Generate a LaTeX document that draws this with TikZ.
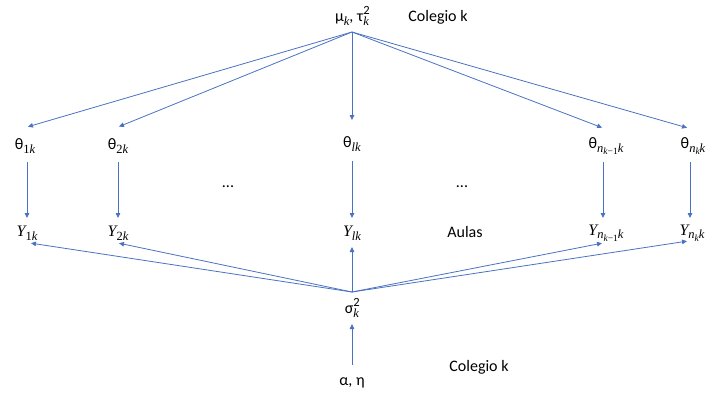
\documentclass[tikz,border=0pt]{standalone}
\usepackage{fontspec}
\setmainfont{Carlito}
\newfontfamily\serifi{Liberation Serif}
\usetikzlibrary{arrows.meta}
\definecolor{arr}{HTML}{4A72C2}
\newcommand\mi[1]{{\serifi\itshape #1}}
\newcommand\up[1]{{\upshape #1}}
\newcommand\sbx[1]{\raisebox{-3.8pt}{\fontsize{12.5}{13}\selectfont\serifi\itshape #1}}
\newcommand\ssb[1]{\raisebox{-2.5pt}{\fontsize{9.5}{10}\selectfont #1}}
\newcommand\spx[1]{\raisebox{6.5pt}{\fontsize{12.5}{13}\selectfont #1}}
\begin{document}
\begin{tikzpicture}[x=1pt,y=-1pt,
  lab/.style={inner sep=0pt,font=\fontsize{16}{18}\selectfont,text=black},
  con/.style={draw=arr,line width=0.8pt,-{Triangle[length=5pt,width=4.5pt]},shorten >=1pt}]
\useasboundingbox (0,0) rectangle (707,402);
\node[lab] (mu) at (352,16) {μ\sbx{k}, τ\makebox[0pt][l]{\spx{2}}\sbx{k}};
\coordinate (top) at (352,32);
\node[lab] (col1) at (438,17) {Colegio k};
\node[lab] (t1) at (25,146) {θ\sbx{\up{1}k}};
\node[lab] (t2) at (118,146) {θ\sbx{\up{2}k}};
\node[lab] (tl) at (352,144) {θ\sbx{lk}};
\node[lab] (tn1) at (606,146) {θ\sbx{n\ssb{k\up{−1}}k}};
\node[lab] (tn) at (693,146) {θ\sbx{n\ssb{k}k}};
\node[lab] (d1) at (228,187) {...};
\node[lab] (d2) at (462,187) {...};
\node[lab] (y1) at (27,233) {\mi{Y}\sbx{\up{1}k}};
\node[lab] (y2) at (118,233) {\mi{Y}\sbx{\up{2}k}};
\node[lab] (yl) at (352,233) {\mi{Y}\sbx{lk}};
\node[lab] (aulas) at (465,232) {Aulas};
\node[lab] (yn1) at (606,233) {\mi{Y}\sbx{n\ssb{k\up{−1}}k}};
\node[lab] (yn) at (692,233) {\mi{Y}\sbx{n\ssb{k}k}};
\node[lab] (sig) at (352,308) {σ\makebox[0pt][l]{\spx{2}}\sbx{k}};
\coordinate (sigc) at (352,292);
\node[lab] (ae) at (352,383) {α, η};
\node[lab] (col2) at (479,367) {Colegio k};
% arrow end points
\coordinate (t1a) at (27,127);
\coordinate (t2a) at (118,127);
\coordinate (tla) at (352,121);
\coordinate (tn1a) at (603,128);
\coordinate (tna) at (688,128);
\coordinate (t1b) at (27,162);   \coordinate (y1a) at (27,219);
\coordinate (t2b) at (118,162);  \coordinate (y2a) at (118,219);
\coordinate (tlb) at (352,161);  \coordinate (yla) at (352,219);
\coordinate (tn1b) at (603,162); \coordinate (yn1a) at (603,219);
\coordinate (tnb) at (690,162);  \coordinate (yna) at (690,219);
\coordinate (y1b) at (30,243);
\coordinate (y2b) at (118,243);
\coordinate (ylb) at (352,246);
\coordinate (yn1b) at (603,243);
\coordinate (ynb) at (688,241);
\coordinate (sigb) at (352,323);
\coordinate (aet) at (352,365);
\draw[con] (top) -- (t1a);
\draw[con] (top) -- (t2a);
\draw[con] (top) -- (tla);
\draw[con] (top) -- (tn1a);
\draw[con] (top) -- (tna);
\draw[con] (t1b) -- (y1a);
\draw[con] (t2b) -- (y2a);
\draw[con] (tlb) -- (yla);
\draw[con] (tn1b) -- (yn1a);
\draw[con] (tnb) -- (yna);
\draw[con] (sigc) -- (y1b);
\draw[con] (sigc) -- (y2b);
\draw[con] (sigc) -- (ylb);
\draw[con] (sigc) -- (yn1b);
\draw[con] (sigc) -- (ynb);
\draw[con] (aet) -- (sigb);
\end{tikzpicture}
\end{document}
